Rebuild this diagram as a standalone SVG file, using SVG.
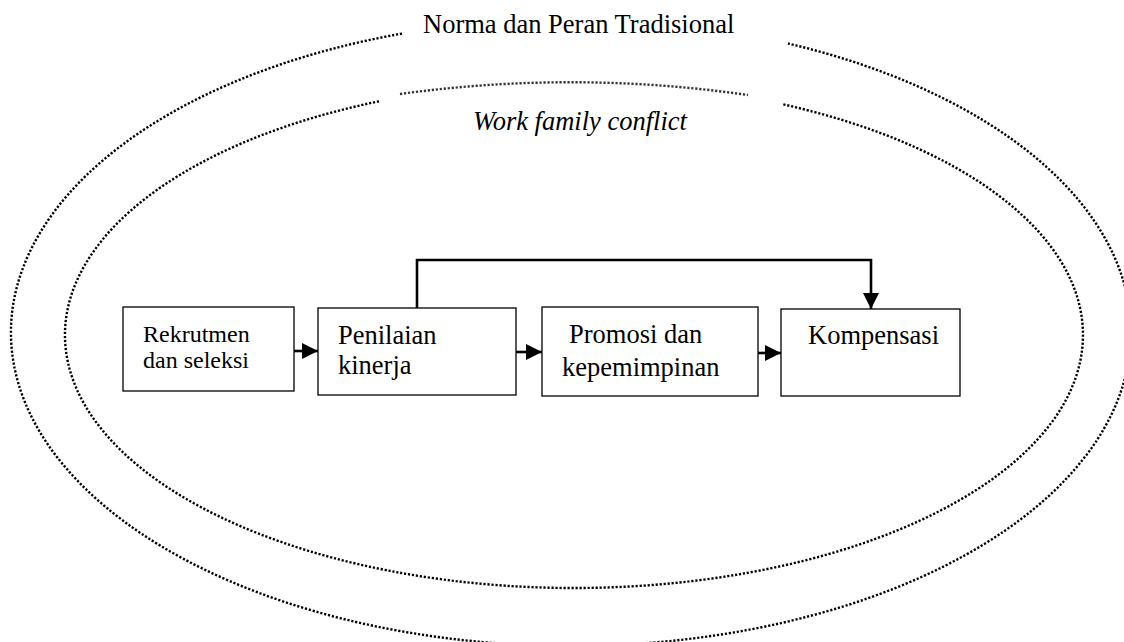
<svg xmlns="http://www.w3.org/2000/svg" width="1124" height="642" viewBox="0 0 1124 642">
  <style>
    .dot { fill: none; stroke: #000; stroke-width: 2.4; stroke-dasharray: 2.2 1.8; }
    .box { fill: #fff; stroke: #000; stroke-width: 1.3; }
    .t { font-family: "Liberation Serif", "Times New Roman", serif; fill: #000; }
    .conn { fill: none; stroke: #000; stroke-width: 2.6; }
  </style>
  <defs>
    <marker id="arr" markerUnits="userSpaceOnUse" markerWidth="17" markerHeight="17" refX="16" refY="8" orient="auto">
      <path d="M0,0 L16,8 L0,16 Z" fill="#000"/>
    </marker>
  </defs>
  <rect width="1124" height="642" fill="#fff"/>

  <g id="outer-ellipse">
    <path class="dot" d="M 402 33.6 A 560 313.5 0 1 0 788 43.5"/>
    <text class="t" x="423" y="33" font-size="26.5">Norma dan Peran Tradisional</text>
  </g>

  <g id="inner-ellipse">
    <path class="dot" d="M 379 101.3 A 509 253 0 1 0 782 104.1"/>
    <path class="dot" style="stroke:#333" d="M 400 94 Q 574 70 748 95"/>
    <text class="t" x="473" y="130" font-size="26.5" font-style="italic">Work family conflict</text>
  </g>

  <g id="connectors">
    <line class="conn" x1="294" y1="351" x2="318" y2="351" marker-end="url(#arr)"/>
    <line class="conn" x1="516" y1="352" x2="542" y2="352" marker-end="url(#arr)"/>
    <line class="conn" x1="758" y1="353" x2="781" y2="353" marker-end="url(#arr)"/>
    <polyline class="conn" points="417,308 417,260 871,260 871,309" marker-end="url(#arr)"/>
  </g>

  <g id="rekrutmen">
    <rect class="box" x="123" y="307" width="171" height="84"/>
    <text class="t" x="143" y="342" font-size="24">Rekrutmen</text>
    <text class="t" x="143" y="368" font-size="24">dan seleksi</text>
  </g>

  <g id="penilaian">
    <rect class="box" x="318" y="308" width="198" height="87"/>
    <text class="t" x="338" y="344" font-size="26.5">Penilaian</text>
    <text class="t" x="338" y="374" font-size="26.5">kinerja</text>
  </g>

  <g id="promosi">
    <rect class="box" x="542" y="307" width="216" height="89"/>
    <text class="t" x="569" y="343" font-size="26.5">Promosi dan</text>
    <text class="t" x="562" y="376" font-size="26.5">kepemimpinan</text>
  </g>

  <g id="kompensasi">
    <rect class="box" x="781" y="309" width="179" height="87"/>
    <text class="t" x="808" y="344" font-size="26.5">Kompensasi</text>
  </g>
</svg>
